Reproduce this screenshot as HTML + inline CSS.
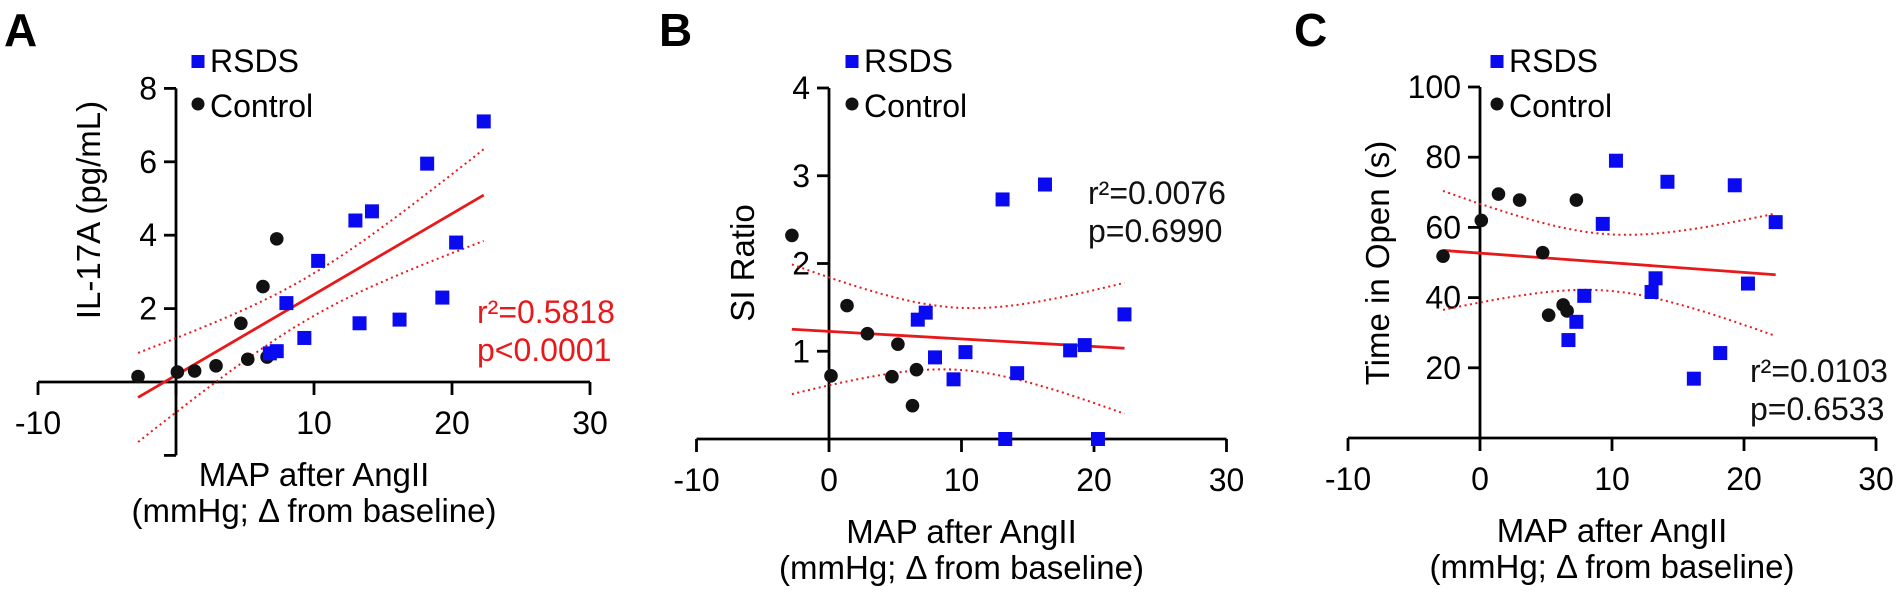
<!DOCTYPE html>
<html><head><meta charset="utf-8"><style>
html,body{margin:0;padding:0;background:#fff;}
svg{display:block;font-family:"Liberation Sans",Arial,sans-serif;}
</style></head><body>
<svg id="fig" width="1902" height="597" viewBox="0 0 1902 597" xmlns="http://www.w3.org/2000/svg">
<g id="static"></g>
</svg>
<script>
// Panel A data
const A_ctrlX=[-2.75,0.1,1.35,2.9,5.2,4.7,6.3,7.3,6.6];
const A_ctrlY=[0.15,0.27,0.3,0.44,0.62,1.6,2.6,3.9,0.68];
const A_rsdsX=[6.8,7.3,8.0,9.3,10.3,13.0,14.2,13.3,16.2,18.2,19.3,20.3,22.3];
const A_rsdsY=[0.78,0.84,2.15,1.2,3.3,4.4,4.65,1.6,1.7,5.95,2.3,3.8,7.1];
const A_xTicks=[-10,0,10,20,30];
const A_xLabels=["-10","","10","20","30"];
const A_yTicks=[-2,2,4,6,8];
const A_yLabels=["","2","4","6","8"];
// Panel B data
const B_ctrlX=[-2.8,1.36,2.9,5.2,0.15,4.75,6.6,6.3];
const B_ctrlY=[2.32,1.52,1.2,1.08,0.72,0.71,0.79,0.38];
const B_rsdsX=[6.7,7.3,8.0,9.4,10.3,14.2,13.1,16.3,13.3,20.3,18.2,19.3,22.3];
const B_rsdsY=[1.36,1.44,0.93,0.68,0.99,0.75,2.73,2.9,0.0,0.0,1.01,1.07,1.42];
const B_xTicks=[-10,0,10,20,30];
const B_xLabels=["-10","0","10","20","30"];
const B_yTicks=[1,2,3,4];
const B_yLabels=["1","2","3","4"];
// Panel C data
const C_ctrlX=[-2.8,0.1,1.4,3.0,7.3,4.75,5.2,6.3,6.6];
const C_ctrlY=[51.8,62,69.5,67.8,67.8,52.8,35,37.9,36.2];
const C_rsdsX=[6.7,7.3,7.9,9.3,10.3,14.2,19.3,22.4,13.3,13.0,20.3,18.2,16.2];
const C_rsdsY=[27.9,33.1,40.5,61,79,73,72,61.5,45.5,41.6,44,24.2,16.9];
const C_xTicks=[-10,0,10,20,30];
const C_xLabels=["-10","0","10","20","30"];
const C_yTicks=[20,40,60,80,100];
const C_yLabels=["20","40","60","80","100"];

const NS="http://www.w3.org/2000/svg";
const svg=document.getElementById('fig');
function mk(tag,attrs,parent,text){
  const e=document.createElementNS(NS,tag);
  for(const k in attrs) e.setAttribute(k,attrs[k]);
  if(text!==undefined) e.textContent=text;
  (parent||svg).appendChild(e);
  return e;
}
const RED="#e8191b", BLUE="#0a0af0", BLK="#111";

function panel(cfg){
  const g=mk('g',{});
  
  
  const sx=v=>cfg.x0+v*cfg.xu, sy=v=>cfg.y0-v*cfg.yu;
  // letter
  const L=mk('text',{x:cfg.letterX,y:46,'font-size':46,'font-weight':'bold',fill:'#000'},g,cfg.letter);
  
  
  // axes
  const xa=mk('line',{x1:sx(cfg.xTicks[0]),x2:sx(cfg.xTicks[cfg.xTicks.length-1]),y1:cfg.y0,y2:cfg.y0,stroke:'#000','stroke-width':2.8},g);
  
  
  const ya=mk('line',{x1:cfg.x0,x2:cfg.x0,y1:sy(cfg.yMax),y2:sy(cfg.yMin),stroke:'#000','stroke-width':2.8},g);
  
  
  cfg.xTicks.forEach((t,i)=>{
    const tk=mk('line',{x1:sx(t),x2:sx(t),y1:cfg.y0,y2:cfg.y0+13,stroke:'#000','stroke-width':2.8},g);
    
    
    if(cfg.xLabels[i]){
      const tl=mk('text',{x:sx(t),y:cfg.y0+52,'font-size':32,'text-anchor':'middle',fill:'#000'},g,cfg.xLabels[i]);
      
      
    }
  });
  cfg.yTicks.forEach((t,i)=>{
    const tk=mk('line',{x1:cfg.x0-12,x2:cfg.x0,y1:sy(t),y2:sy(t),stroke:'#000','stroke-width':2.8},g);
    
    
    if(cfg.yLabels[i]){
      const tl=mk('text',{x:cfg.x0-19,y:sy(t)+11,'font-size':32,'text-anchor':'end',fill:'#000'},g,cfg.yLabels[i]);
      
      
    }
  });
  // axis titles
  const xc=(sx(cfg.xTicks[0])+sx(cfg.xTicks[cfg.xTicks.length-1]))/2;
  const t1=mk('text',{x:xc,y:cfg.y0+104,'font-size':33,'text-anchor':'middle',fill:'#000'},g,'MAP after AngII');
  
  
  const t2=mk('text',{x:xc,y:cfg.y0+140,'font-size':33,'text-anchor':'middle',fill:'#000'},g,'(mmHg; \u0394 from baseline)');
  
  
  const yt=mk('text',{x:0,y:0,'font-size':33,'text-anchor':'middle',fill:'#000',transform:`translate(${cfg.yTitleX},${cfg.yTitleY}) rotate(-90)`},g,cfg.yTitle);
  
  
  // legend
  const ls=mk('rect',{x:cfg.legX-6.5,y:55,width:13,height:13,fill:BLUE},g);
  
  
  const lt=mk('text',{x:cfg.legX+12,y:72,'font-size':32,fill:'#000'},g,'RSDS');
  
  
  const lc=mk('circle',{cx:cfg.legX,cy:104,r:6.5,fill:BLK},g);
  
  
  const lt2=mk('text',{x:cfg.legX+12,y:117,'font-size':32,fill:'#000'},g,'Control');
  
  
  // regression
  const X=cfg.ctrlX.concat(cfg.rsdsX), Y=cfg.ctrlY.concat(cfg.rsdsY);
  const n=X.length, mx=X.reduce((a,b)=>a+b)/n, my=Y.reduce((a,b)=>a+b)/n;
  let sxx=0,sxy=0; for(let i=0;i<n;i++){sxx+=(X[i]-mx)**2;sxy+=(X[i]-mx)*(Y[i]-my);}
  const b=sxy/sxx, a=my-b*mx;
  let sse=0; for(let i=0;i<n;i++) sse+=(Y[i]-a-b*X[i])**2;
  const s=Math.sqrt(sse/(n-2)), t=2.09;
  const xmin=Math.min(...X), xmax=Math.max(...X);
  let up=[],lo=[];
  for(let k=0;k<=40;k++){
    const xv=xmin+(xmax-xmin)*k/40, se=s*Math.sqrt(1/n+(xv-mx)**2/sxx), yv=a+b*xv;
    up.push(sx(xv).toFixed(1)+','+sy(yv+t*se).toFixed(1));
    lo.push(sx(xv).toFixed(1)+','+sy(yv-t*se).toFixed(1));
  }
  const cu=mk('polyline',{points:up.join(' '),fill:'none',stroke:RED,'stroke-width':2,'stroke-dasharray':'2 3.5'},g);
  
  
  const cl=mk('polyline',{points:lo.join(' '),fill:'none',stroke:RED,'stroke-width':2,'stroke-dasharray':'2 3.5'},g);
  
  
  const rl=mk('line',{x1:sx(xmin),y1:sy(a+b*xmin),x2:sx(xmax),y2:sy(a+b*xmax),stroke:RED,'stroke-width':2.8},g);
  
  
  // points
  cfg.ctrlX.forEach((xv,i)=>{
    const c=mk('circle',{cx:sx(xv),cy:sy(cfg.ctrlY[i]),r:6.8,fill:BLK},g);
    
    
  });
  cfg.rsdsX.forEach((xv,i)=>{
    const r=mk('rect',{x:sx(xv)-7,y:sy(cfg.rsdsY[i])-7,width:14,height:14,fill:BLUE},g);
    
    
  });
  // stats
  const s1=mk('text',{x:cfg.statX,y:cfg.statY,'font-size':32,fill:cfg.statColor},g,cfg.stat1);
  
  
  const s2=mk('text',{x:cfg.statX,y:cfg.statY+38,'font-size':32,fill:cfg.statColor},g,cfg.stat2);
  
  
}

panel({name:'panel-a',letter:'A',letterX:4,x0:176,xu:13.8,y0:382,yu:36.7,yMin:-2,yMax:8,
  xTicks:A_xTicks,xLabels:A_xLabels,yTicks:A_yTicks,yLabels:A_yLabels,
  ctrlX:A_ctrlX,ctrlY:A_ctrlY,rsdsX:A_rsdsX,rsdsY:A_rsdsY,
  yTitle:'IL-17A (pg/mL)',yTitleX:100,yTitleY:210,legX:198,
  statX:477,statY:323,statColor:RED,stat1:'r\u00B2=0.5818',stat2:'p<0.0001'});
panel({name:'panel-b',letter:'B',letterX:659,x0:829,xu:13.25,y0:439,yu:87.75,yMin:0,yMax:4,
  xTicks:B_xTicks,xLabels:B_xLabels,yTicks:B_yTicks,yLabels:B_yLabels,
  ctrlX:B_ctrlX,ctrlY:B_ctrlY,rsdsX:B_rsdsX,rsdsY:B_rsdsY,
  yTitle:'SI Ratio',yTitleX:754,yTitleY:263,legX:852,
  statX:1088,statY:204,statColor:'#111',stat1:'r\u00B2=0.0076',stat2:'p=0.6990'});
panel({name:'panel-c',letter:'C',letterX:1294,x0:1480,xu:13.2,y0:438,yu:3.51,yMin:0,yMax:100,
  xTicks:C_xTicks,xLabels:C_xLabels,yTicks:C_yTicks,yLabels:C_yLabels,
  ctrlX:C_ctrlX,ctrlY:C_ctrlY,rsdsX:C_rsdsX,rsdsY:C_rsdsY,
  yTitle:'Time in Open (s)',yTitleX:1389,yTitleY:263,legX:1497,
  statX:1750,statY:382,statColor:'#111',stat1:'r\u00B2=0.0103',stat2:'p=0.6533'});
</script>
</body></html>
